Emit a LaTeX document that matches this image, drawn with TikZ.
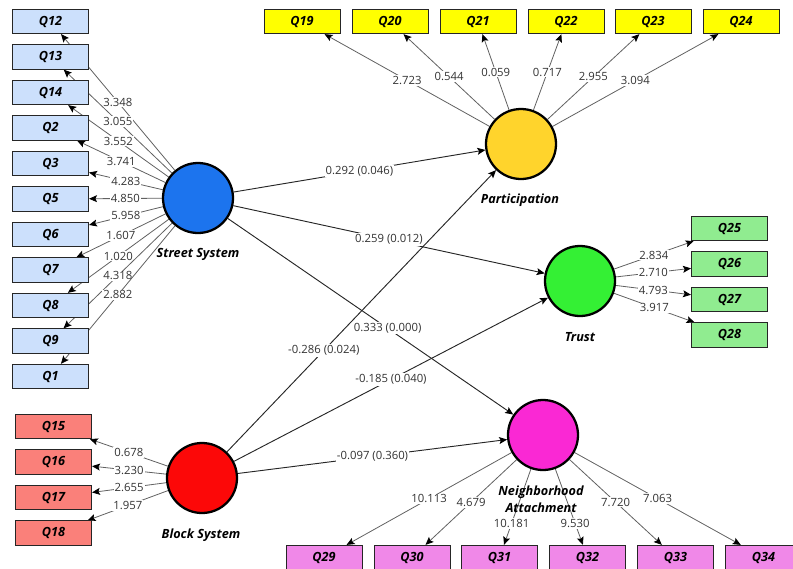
\documentclass[tikz,border=0pt]{standalone}
\usepackage{fontspec}
\setmainfont{Open Sans}
\usetikzlibrary{arrows.meta,backgrounds}

\begin{document}
\begin{tikzpicture}[x=0.75pt, y=-0.75pt, >={Stealth[length=6pt,width=5.2pt,inset=1.2pt,black]},
    item/.style={draw=black!85, line width=0.75pt, minimum width=57pt, minimum height=18.2pt, inner sep=0pt,
      font=\fontsize{9.5}{11}\selectfont\bfseries\itshape},
    latent/.style={circle, draw=black, line width=1.7pt, minimum size=52.5pt, inner sep=0pt},
    cname/.style={font=\fontsize{9.5}{12.75}\selectfont\bfseries\itshape, align=center},
    loading/.style={->, draw=black!62, line width=0.6pt},
    struct/.style={->, draw=black!85, line width=0.7pt},
    val/.style={fill=white, inner sep=0.8pt, text=black!80, font=\fontsize{8.5}{10}\selectfont}]
    % Màu của các khối và các hình tròn
    \definecolor{ssfill}{RGB}{28,116,238}
    \definecolor{partfill}{RGB}{255,212,44}
    \definecolor{trustfill}{RGB}{52,240,52}
    \definecolor{bsfill}{RGB}{252,8,8}
    \definecolor{nafill}{RGB}{250,40,212}
    \definecolor{ssitem}{RGB}{204,224,252}
    \definecolor{partitem}{RGB}{255,255,0}
    \definecolor{trustitem}{RGB}{144,236,144}
    \definecolor{bsitem}{RGB}{250,128,122}
    \definecolor{naitem}{RGB}{240,136,232}

    \useasboundingbox (0,0) rectangle (793,568);

    % 1. Các biến tiềm ẩn
    \node[latent, fill=ssfill] (ss) at (198,198) {};
    \node[latent, fill=partfill] (part) at (521,144) {};
    \node[latent, fill=trustfill] (trust) at (580,281) {};
    \node[latent, fill=bsfill] (bs) at (202,478) {};
    \node[latent, fill=nafill] (na) at (543,435) {};
    \node[cname] (sslbl) at (198,254) {Street System};
    \node[cname] (partlbl) at (520,200) {Participation};
    \node[cname] (trustlbl) at (580,337) {Trust};
    \node[cname] (bslbl) at (201,535) {Block System};
    \node[cname] (nalbl) at (541,499.5) {Neighborhood\\Attachment};

    % 2. Các biến quan sát và hệ số tải
    \foreach \q/\y/\v in {12/21.5/3.348, 13/57/3.055, 14/92.5/3.552, 2/128/3.741,
        3/163.5/4.283, 5/199/4.850, 6/234.5/5.958, 7/270/1.607, 8/305.5/1.020,
        9/341/4.318, 1/376.5/2.882}{
      \node[item, fill=ssitem] (q\q) at (50.5,\y) {Q\q};
      \begin{pgfonlayer}{background}
        \draw[loading] (ss) -- node[val] {\v} (q\q);
      \end{pgfonlayer}
    }
    \foreach \q/\x/\v in {19/302/2.723, 20/390/0.544, 21/478/0.059, 22/566/0.717,
        23/653/2.955, 24/741/3.094}{
      \node[item, fill=partitem] (q\q) at (\x,21.5) {Q\q};
      \begin{pgfonlayer}{background}
        \draw[loading] (part) -- node[val] {\v} (q\q);
      \end{pgfonlayer}
    }
    \foreach \q/\y/\v in {25/228.5/2.834, 26/264/2.710, 27/299.5/4.793, 28/335/3.917}{
      \node[item, fill=trustitem] (q\q) at (729.5,\y) {Q\q};
      \begin{pgfonlayer}{background}
        \draw[loading] (trust) -- node[val] {\v} (q\q);
      \end{pgfonlayer}
    }
    \foreach \q/\y/\v in {15/426.5/0.678, 16/462/3.230, 17/497.5/2.655, 18/533/1.957}{
      \node[item, fill=bsitem] (q\q) at (53.5,\y) {Q\q};
      \begin{pgfonlayer}{background}
        \draw[loading] (bs) -- node[val] {\v} (q\q);
      \end{pgfonlayer}
    }
    \foreach \q/\x/\v/\p in {29/324/10.113/0.5, 30/412/4.679/0.5, 31/499.5/10.181/0.72,
        32/587.5/9.530/0.72, 33/675.5/7.720/0.5, 34/763.5/7.063/0.5}{
      \node[item, fill=naitem] (q\q) at (\x,557.5) {Q\q};
      \begin{pgfonlayer}{background}
        \draw[loading] (na) -- node[val, pos=\p] {\v} (q\q);
      \end{pgfonlayer}
    }

    % 3. Các đường dẫn cấu trúc
    \begin{pgfonlayer}{background}
      \draw[struct] (ss) -- node[val] {0.292 (0.046)} (part);
      \draw[struct] (ss) -- node[val] {0.259 (0.012)} (trust);
      \draw[struct] (ss) -- node[val, pos=0.56] {0.333 (0.000)} (na);
      \draw[struct] (bs) -- node[val, pos=0.36] {-0.286 (0.024)} (part);
      \draw[struct] (bs) -- node[val] {-0.185 (0.040)} (trust);
      \draw[struct] (bs) -- node[val] {-0.097 (0.360)} (na);
    \end{pgfonlayer}
\end{tikzpicture}
\end{document}
